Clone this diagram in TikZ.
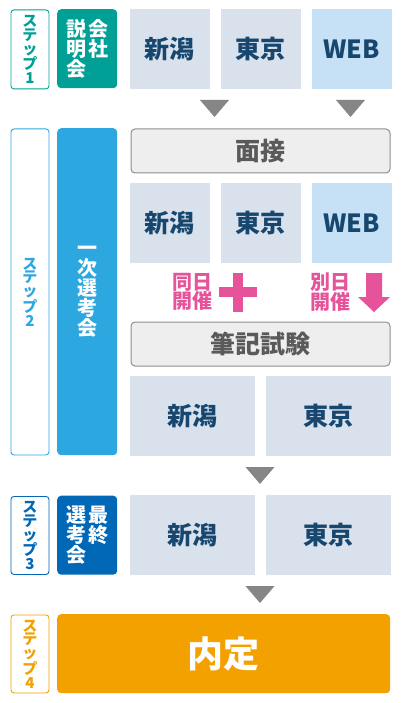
\documentclass[tikz,border=0pt]{standalone}
\usepackage{fontspec}
\setmainfont{Noto Sans CJK JP}
\usetikzlibrary{positioning}

\definecolor{stepteal}{HTML}{00A096}
\definecolor{stepsky}{HTML}{2DA7E0}
\definecolor{stepnavy}{HTML}{0068B7}
\definecolor{steporange}{HTML}{F3A100}
\definecolor{areafill}{HTML}{D9E1ED}
\definecolor{webfill}{HTML}{C6E0F5}
\definecolor{areatext}{HTML}{17476F}
\definecolor{flowgrey}{HTML}{868686}
\definecolor{examfill}{HTML}{EEEEEE}
\definecolor{examline}{HTML}{8E8E8E}
\definecolor{examtext}{HTML}{5A5A5A}
\definecolor{sessionpink}{HTML}{E6539A}

\tikzset{
  steptag/.style={draw=#1, line width=0.9pt, rounded corners=3pt, fill=white,
    text=#1, minimum width=38pt, inner sep=0pt, anchor=north west, align=center,
    font=\fontsize{15}{13.8}\selectfont\bfseries},
  stepbox/.style={fill=#1, rounded corners=4pt, minimum width=60pt,
    inner sep=0pt, anchor=north west},
  steptext/.style={text=white, align=center, inner sep=0pt,
    font=\fontsize{20}{20}\selectfont\bfseries},
  area/.style={fill=areafill, text=areatext, minimum width=79.5pt,
    minimum height=79.5pt, inner sep=0pt, anchor=north west,
    font=\fontsize{25}{25}\selectfont\bfseries},
  exam/.style={draw=examline, line width=1pt, fill=examfill, rounded corners=4pt,
    text=examtext, minimum width=259pt, minimum height=44pt, inner sep=0pt,
    anchor=north west, font=\fontsize{25}{25}\selectfont\bfseries},
  session/.style={text=sessionpink, align=center, inner sep=0pt,
    font=\fontsize{20}{19.5}\selectfont\bfseries},
  flowdown/.pic={\fill[flowgrey] (-14.5,0) -- (14.5,0) -- (0,17) -- cycle;}
}

\begin{document}
\begin{tikzpicture}[x=1pt, y=-1pt, node distance=11pt]
\useasboundingbox[fill=white] (0,0) rectangle (400,703);

% step 1
\node (s1tag) [steptag=stepteal, minimum height=79pt] at (10.5,9.5) {ス\\テ\\ッ\\プ\\1};
\node (s1box) [stepbox=stepteal, minimum height=79pt] at (57,9) {};
\node (s1text) [steptext] at (s1box.center) {説\hspace{2pt}会\\明\hspace{2pt}社\\会\hspace{2pt}\phantom{社}};
\node (s1niigata) [area] at (130,9) {新潟};
\node (s1tokyo)   [area, right=of s1niigata] {東京};
\node (s1web)     [area, fill=webfill, right=of s1tokyo] {WEB};

\pic at (214.5,100) {flowdown};
\pic at (350.5,100) {flowdown};

% step 2
\node (s2tag) [steptag=stepsky, minimum height=326pt] at (10.5,128.5) {ス\\テ\\ッ\\プ\\2};
\node (s2box) [stepbox=stepsky, minimum height=327pt] at (57,128) {};
\node (s2text) [steptext] at (s2box.center) {一\\次\\選\\考\\会};
\node (mensetsu) [exam] at (130.5,128.5) {面接};
\node (s2niigata) [area] at (130,183) {新潟};
\node (s2tokyo)   [area, right=of s2niigata] {東京};
\node (s2web)     [area, fill=webfill, right=of s2tokyo] {WEB};

\node (doujitsu)   [session] at (192.5,292) {同日\\開催};
\node (betsujitsu) [session] at (330.5,292) {別日\\開催};
% plus and arrow marks
\fill[sessionpink] (219,287) rectangle (257,297);
\fill[sessionpink] (233,273) rectangle (243,312);
\fill[sessionpink] (366,273) -- (382,273) -- (382,297) -- (390,297)
  -- (374,312) -- (358,297) -- (366,297) -- cycle;

\node (hikki) [exam] at (130.5,321.5) {筆記試験};
\node (s2bniigata) [area, minimum width=125pt] at (130,376) {新潟};
\node (s2btokyo)   [area, minimum width=125pt, right=10pt of s2bniigata] {東京};

\pic at (260,467) {flowdown};

% step 3
\node (s3tag) [steptag=stepnavy, minimum height=78pt] at (10.5,496) {ス\\テ\\ッ\\プ\\3};
\node (s3box) [stepbox=stepnavy, minimum height=79pt] at (57,495.5) {};
\node (s3text) [steptext] at (s3box.center) {選\hspace{2pt}最\\考\hspace{2pt}終\\会\hspace{2pt}\phantom{終}};
\node (s3niigata) [area, minimum width=125pt] at (130,495) {新潟};
\node (s3tokyo)   [area, minimum width=125pt, right=10pt of s3niigata] {東京};

\pic at (260,586) {flowdown};

% step 4
\node (s4tag) [steptag=steporange, minimum height=78pt] at (10.5,614.5) {ス\\テ\\ッ\\プ\\4};
\node (naitei) [stepbox=steporange, minimum width=333pt, minimum height=79pt,
  text=white, font=\fontsize{36}{36}\selectfont\bfseries] at (57,614) {内定};

\end{tikzpicture}
\end{document}
